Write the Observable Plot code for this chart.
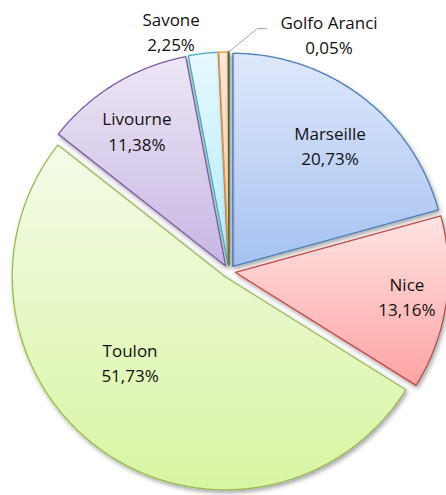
<!DOCTYPE html>
<html>
<head>
<meta charset="utf-8">
<script src="https://cdn.jsdelivr.net/npm/d3@7"></script>
<script src="https://cdn.jsdelivr.net/npm/@observablehq/plot@0.6"></script>
<style>
  html, body { margin: 0; padding: 0; background: #fff; }
  #chart svg { display: block; }
</style>
</head>
<body>
<div id="chart"></div>
<script>
// ---------- data ----------
const ports = ["Marseille", "Nice", "Toulon", "Livourne", "Savone", "Autres", "Golfo Aranci"];
const shares = [20.73, 13.16, 51.73, 11.38, 2.25, 0.70, 0.05];
const shareLabels = ["20,73%", "13,16%", "51,73%", "11,38%", "2,25%", "", "0,05%"];

// ---------- styles ----------
const topColors    = ["#dfe8fb", "#ffe3e3", "#f4fbe8", "#ede7f6", "#e6f9fe", "#fee8d8", "#dfe8cc"];
const bottomColors = ["#a6c2f1", "#ffa3a3", "#d8f5a2", "#c7b6e3", "#b4ebfa", "#fcc8a2", "#9bbb59"];
const strokeColors = ["#4a7ebb", "#be4b48", "#98b954", "#7d60a0", "#46aac5", "#f69240", "#4f6228"];

// ---------- layout ----------
const W = 446, H = 495, R = 213, CX = 228.5, CY = 271, EXPLODE = 6.5;
// label placement: [angle in degrees clockwise from top, distance as fraction of radius]
const labelPlacement = [[38.5, 0.762], [97.7, 0.843], [227.7, 0.628], [327, 0.794], [346.5, 1.164], null, [22.8, 1.212]];
// leader line for Golfo Aranci: elbow and end (polar)
const leaderPolar = [[6.7, 1.149], [8.8, 1.154]];

const rows = ports.map((p, i) => ({port: p, share: shares[i], label: shareLabels[i], i}));
const arcs = d3.pie().sort(null).value(d => d.share).startAngle(0).endAngle(2 * Math.PI)(rows);
const e = EXPLODE / R;

const slices = arcs.map(a => {
  const mid = (a.startAngle + a.endAngle) / 2;
  const ox = e * Math.sin(mid), oy = -e * Math.cos(mid);
  const n = Math.max(2, Math.ceil((a.endAngle - a.startAngle) / (Math.PI / 360)));
  const pts = [{x: ox, y: oy}];
  for (let k = 0; k <= n; k++) {
    const t = a.startAngle + (a.endAngle - a.startAngle) * k / n;
    pts.push({x: ox + Math.sin(t), y: oy - Math.cos(t)});
  }
  return {i: a.data.i, pts, mid, ox, oy};
});

const polar = (deg, r) => ({x: r * Math.sin(deg * Math.PI / 180), y: -r * Math.cos(deg * Math.PI / 180)});

const labels = rows
  .filter((d, i) => labelPlacement[i] && d.label !== "")
  .map(d => ({...polar(...labelPlacement[d.i]), text: d.port + "\n" + d.label}));

const golfo = slices[ports.indexOf("Golfo Aranci")];
const leader = [
  {x: golfo.ox + Math.sin(golfo.mid), y: golfo.oy - Math.cos(golfo.mid)},
  polar(...leaderPolar[0]),
  polar(...leaderPolar[1])
];

const svg = Plot.plot({
  width: W,
  height: H,
  margin: 0,
  x: {axis: null, domain: [-CX / R, (W - CX) / R], range: [0, W]},
  y: {axis: null, domain: [-CY / R, (H - CY) / R], range: [0, H]},
  marks: [
    ...slices.map(s => Plot.line(s.pts, {
      x: "x", y: "y", curve: "linear-closed",
      fill: `url(#grad${s.i})`, stroke: strokeColors[s.i], strokeWidth: 1.3, strokeLinejoin: "round"
    })),
    Plot.line(leader, {x: "x", y: "y", stroke: "#a6a6a6", strokeWidth: 1}),
    Plot.text(labels, {
      x: "x", y: "y", text: "text", fontSize: 17, lineHeight: 1.5,
      fontFamily: "Open Sans", fill: "#111"
    })
  ]
});

const defs = d3.select(svg).insert("defs", ":first-child");
topColors.forEach((c, i) => {
  const g = defs.append("linearGradient").attr("id", "grad" + i)
    .attr("x1", 0).attr("y1", 0).attr("x2", 0).attr("y2", 1);
  g.append("stop").attr("offset", "0%").attr("stop-color", c);
  g.append("stop").attr("offset", "100%").attr("stop-color", bottomColors[i]);
});
const f = defs.append("filter").attr("id", "shadow")
  .attr("filterUnits", "userSpaceOnUse").attr("x", 0).attr("y", 0).attr("width", W).attr("height", H);
f.append("feDropShadow").attr("dx", 1.5).attr("dy", 2.5).attr("stdDeviation", 2)
  .attr("flood-color", "#000").attr("flood-opacity", 0.35);
d3.select(svg).selectAll("g[fill^='url(#grad']").attr("filter", "url(#shadow)");

document.getElementById("chart").appendChild(svg);
</script>
</body>
</html>
